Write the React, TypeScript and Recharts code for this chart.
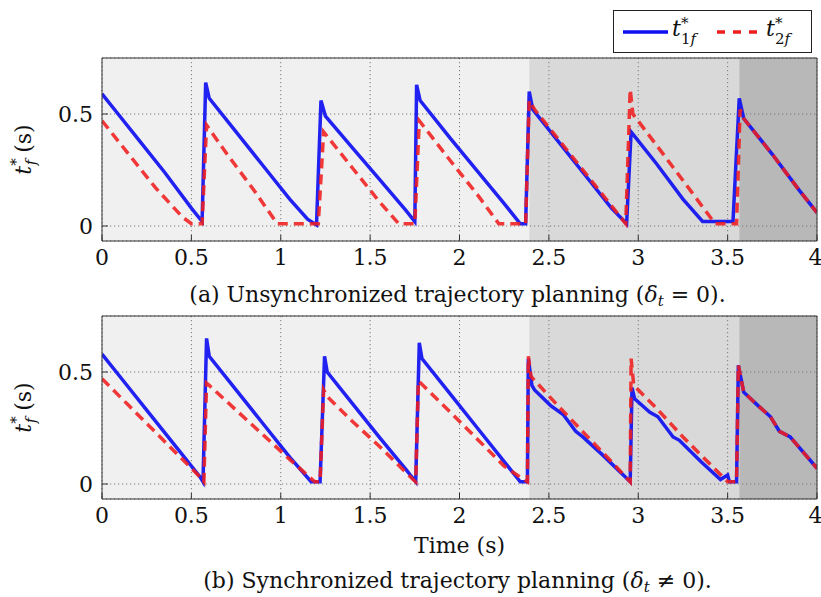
import React from "react";
import { LineChart, Line, XAxis, YAxis, CartesianGrid, ReferenceArea, Label } from "recharts";

const FONT = '"DejaVu Serif", "Liberation Serif", serif';

const timeTicks = [0, 0.5, 1, 1.5, 2, 2.5, 3, 3.5, 4];
const valueTicks = [0, 0.5];

// phases shaded behind the curves (s)
const phaseStarts = [0, 2.39, 3.565];
const phaseEnds = [2.39, 3.565, 4];

// (a) unsynchronized planning
const aT1Time = [0, 0.08, 0.2, 0.35, 0.5, 0.56, 0.58, 0.6, 0.75, 0.9, 1.05, 1.15, 1.2, 1.225, 1.25, 1.4, 1.55, 1.7, 1.75, 1.76, 1.78, 1.95, 2.1, 2.25, 2.34, 2.37, 2.39, 2.41, 2.55, 2.7, 2.85, 2.935, 2.96, 2.98, 3.1, 3.25, 3.36, 3.53, 3.565, 3.59, 3.75, 3.9, 4.0];
const aT1Val = [0.59, 0.51, 0.39, 0.24, 0.08, 0.02, 0.64, 0.57, 0.42, 0.27, 0.12, 0.03, 0.005, 0.56, 0.49, 0.35, 0.21, 0.07, 0.02, 0.63, 0.56, 0.39, 0.245, 0.1, 0.01, 0.01, 0.6, 0.52, 0.38, 0.23, 0.08, 0.01, 0.42, 0.4, 0.28, 0.12, 0.02, 0.02, 0.57, 0.48, 0.32, 0.16, 0.06];
const aT2Time = [0, 0.15, 0.3, 0.45, 0.5, 0.56, 0.585, 0.7, 0.85, 0.98, 1.21, 1.24, 1.4, 1.55, 1.66, 1.75, 1.775, 1.95, 2.1, 2.22, 2.37, 2.39, 2.42, 2.6, 2.8, 2.93, 2.955, 2.97, 3.15, 3.3, 3.43, 3.55, 3.57, 3.59, 3.75, 3.9, 4.0];
const aT2Val = [0.47, 0.32, 0.17, 0.04, 0.01, 0.01, 0.45, 0.32, 0.16, 0.01, 0.01, 0.42, 0.26, 0.11, 0.01, 0.01, 0.47, 0.29, 0.14, 0.01, 0.01, 0.56, 0.52, 0.34, 0.14, 0.01, 0.61, 0.5, 0.31, 0.15, 0.01, 0.01, 0.52, 0.48, 0.32, 0.16, 0.06];

// (b) synchronized planning
const bT1Time = [0, 0.1, 0.25, 0.4, 0.55, 0.565, 0.585, 0.6, 0.75, 0.9, 1.05, 1.17, 1.22, 1.245, 1.26, 1.4, 1.55, 1.7, 1.755, 1.775, 1.79, 1.95, 2.1, 2.25, 2.34, 2.38, 2.385, 2.405, 2.42, 2.51, 2.58, 2.65, 2.69, 2.8, 2.955, 2.965, 2.98, 3.065, 3.11, 3.195, 3.23, 3.35, 3.46, 3.5, 3.51, 3.55, 3.56, 3.59, 3.67, 3.74, 3.79, 3.85, 4.0];
const bT1Val = [0.58, 0.48, 0.33, 0.18, 0.03, 0.01, 0.65, 0.57, 0.42, 0.27, 0.12, 0.01, 0.01, 0.57, 0.5, 0.36, 0.21, 0.065, 0.01, 0.63, 0.56, 0.4, 0.25, 0.1, 0.01, 0.01, 0.56, 0.44, 0.42, 0.35, 0.31, 0.235, 0.21, 0.13, 0.01, 0.43, 0.38, 0.32, 0.3, 0.21, 0.195, 0.1, 0.02, 0.04, 0.01, 0.01, 0.53, 0.41, 0.35, 0.3, 0.235, 0.21, 0.07];
const bT2Time = [0, 0.15, 0.3, 0.45, 0.55, 0.57, 0.585, 0.6, 0.75, 0.9, 1.05, 1.19, 1.22, 1.24, 1.26, 1.4, 1.55, 1.74, 1.755, 1.77, 1.95, 2.1, 2.25, 2.34, 2.38, 2.385, 2.4, 2.55, 2.7, 2.85, 2.955, 2.96, 2.975, 3.1, 3.25, 3.4, 3.5, 3.55, 3.56, 3.59, 3.67, 3.74, 3.79, 3.85, 4.0];
const bT2Val = [0.47, 0.35, 0.23, 0.11, 0.03, 0.01, 0.45, 0.44, 0.33, 0.22, 0.11, 0.01, 0.01, 0.42, 0.39, 0.28, 0.17, 0.02, 0.01, 0.46, 0.32, 0.2, 0.08, 0.03, 0.01, 0.57, 0.48, 0.35, 0.225, 0.1, 0.01, 0.56, 0.44, 0.34, 0.21, 0.09, 0.01, 0.01, 0.53, 0.41, 0.35, 0.3, 0.235, 0.21, 0.07];

const zip = (t: number[], v: number[]) => t.map((x, i) => ({ t: x, v: v[i] }));

const BLUE = "#0f0ff2";
const RED = "#f01e1e";
const PHASE_FILL = ["#f0f0f0", "#d9d9d9", "#b8b8b8"];

const YLabel = ({ viewBox }: any) => {
  const cy = viewBox.y + viewBox.height / 2;
  return (
    <text transform={`translate(31,${cy}) rotate(-90)`} textAnchor="middle" fontSize={22} fill="#111" fontFamily={FONT}>
      <tspan fontStyle="italic">t</tspan>
      <tspan fontSize={15} dy={-10}>*</tspan>
      <tspan fontSize={15} fontStyle="italic" dx={-7} dy={15}>f</tspan>
      <tspan dy={-5} dx={7}>(s)</tspan>
    </text>
  );
};

const TimeLabel = ({ viewBox }: any) => (
  <text x={viewBox.x + viewBox.width / 2} y={viewBox.y + 54} textAnchor="middle" fontSize={22} fill="#111" fontFamily={FONT}>
    Time (s)
  </text>
);

function Panel({ blue, red, height, margin, timeLabel }: any) {
  const tick = { fontSize: 22, fill: "#111", fontFamily: FONT };
  return (
    <LineChart width={821} height={height} margin={margin}>
      {phaseStarts.map((s, i) => (
        <ReferenceArea key={i} x1={s} x2={phaseEnds[i]} y1={-0.067} y2={0.75} fill={PHASE_FILL[i]} fillOpacity={1} stroke="none" zIndex={-150} />
      ))}
      <CartesianGrid stroke="#7a7a7a" strokeDasharray="1.2 2.8" />
      <XAxis
        dataKey="t"
        type="number"
        domain={[0, 4]}
        ticks={timeTicks}
        height={timeLabel ? 50 : 30}
        tick={tick}
        tickSize={-6}
        tickMargin={14}
        stroke="#333"
        tickFormatter={(v) => String(v)}
        allowDataOverflow
      >
        {timeLabel && <Label content={<TimeLabel />} />}
      </XAxis>
      <XAxis xAxisId="top" orientation="top" type="number" domain={[0, 4]} ticks={timeTicks} height={10} tickSize={-6} tickFormatter={() => ""} stroke="#333" />
      <YAxis
        type="number"
        domain={[-0.067, 0.75]}
        ticks={valueTicks}
        width={60}
        tick={tick}
        tickSize={-6}
        tickMargin={15}
        stroke="#333"
        tickFormatter={(v) => String(v)}
        allowDataOverflow
      >
        <Label content={<YLabel />} />
      </YAxis>
      <YAxis yAxisId="right" orientation="right" type="number" domain={[-0.067, 0.75]} ticks={valueTicks} width={4} tickSize={-6} tickFormatter={() => ""} stroke="#333" />
      <Line data={blue} dataKey="v" stroke={BLUE} strokeWidth={3.5} strokeOpacity={0.92} dot={false} isAnimationActive={false} />
      <Line data={red} dataKey="v" stroke={RED} strokeWidth={3.5} strokeOpacity={0.88} strokeDasharray="10 6" dot={false} isAnimationActive={false} />
    </LineChart>
  );
}

function Legend() {
  return (
    <div style={{ position: "absolute", left: 613, top: 10, width: 199, height: 43, boxSizing: "border-box", border: "1.5px solid #222", background: "#fff" }}>
      <svg width={196} height={40} style={{ position: "absolute", left: 0, top: 0 }} fontFamily={FONT}>
        <line x1={9} y1={21} x2={54} y2={21} stroke={BLUE} strokeWidth={3.5} />
        <text x={58} y={25} fontSize={22} fontStyle="italic" fill="#111">t</text>
        <text x={67} y={17} fontSize={15} fill="#111">*</text>
        <text x={67} y={33} fontSize={15} fill="#111">1<tspan fontStyle="italic">f</tspan></text>
        <line x1={103} y1={21} x2={144} y2={21} stroke={RED} strokeWidth={3.5} strokeDasharray="8 8" />
        <text x={152} y={25} fontSize={22} fontStyle="italic" fill="#111">t</text>
        <text x={161} y={17} fontSize={15} fill="#111">*</text>
        <text x={161} y={33} fontSize={15} fill="#111">2<tspan fontStyle="italic">f</tspan></text>
      </svg>
    </div>
  );
}

const captionStyle: React.CSSProperties = {
  position: "absolute",
  left: 90,
  width: 735,
  textAlign: "center",
  fontSize: 22,
  lineHeight: "28px",
  color: "#111",
  whiteSpace: "nowrap",
  fontFamily: FONT,
};

export default function App() {
  return (
    <div style={{ position: "absolute", left: 0, top: 0, width: 821, height: 597, background: "#fff", fontFamily: FONT, overflow: "hidden" }}>
      <div style={{ position: "absolute", left: 0, top: 0 }}>
        <Panel blue={zip(aT1Time, aT1Val)} red={zip(aT2Time, aT2Val)} height={280} margin={{ top: 48, right: 0, bottom: 9, left: 42 }} />
      </div>
      <div style={{ position: "absolute", left: 0, top: 300 }}>
        <Panel blue={zip(bT1Time, bT1Val)} red={zip(bT2Time, bT2Val)} height={260} margin={{ top: 6, right: 0, bottom: 11, left: 42 }} timeLabel />
      </div>
      <Legend />
      <div style={{ ...captionStyle, top: 281 }}>
        (a) Unsynchronized trajectory planning (<i>δ</i><sub style={{ fontSize: 15, verticalAlign: -4 }}><i>t</i></sub> = 0).
      </div>
      <div style={{ ...captionStyle, top: 567 }}>
        (b) Synchronized trajectory planning (<i>δ</i><sub style={{ fontSize: 15, verticalAlign: -4 }}><i>t</i></sub> ≠ 0).
      </div>
    </div>
  );
}
